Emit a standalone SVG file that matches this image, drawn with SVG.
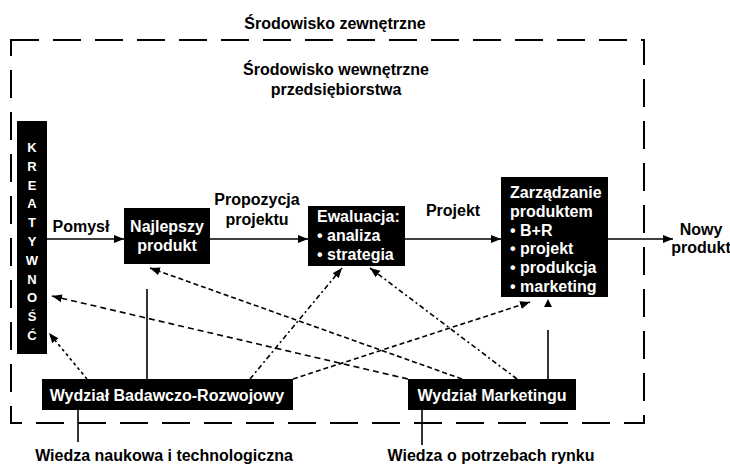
<svg xmlns="http://www.w3.org/2000/svg" width="730" height="466" viewBox="0 0 730 466">
<style>
text{font-family:"Liberation Sans",Arial,sans-serif;font-weight:bold;font-size:16px;fill:#000}
.w{fill:#fff}
.c{text-anchor:middle}
.k{font-size:13px}
.box{fill:#000}
.ln{stroke:#000;stroke-width:1.6;fill:none}
.d1{stroke-dasharray:6,4}
.d2{stroke-dasharray:5,3}
.d3{stroke-dasharray:5,3,2,3}
.d4{stroke-dasharray:3,3}
.env{fill:none;stroke:#000;stroke-width:2;stroke-dasharray:28,14}
</style>
<defs>
<marker id="ah" markerUnits="userSpaceOnUse" markerWidth="11" markerHeight="9" refX="10" refY="4" orient="auto">
<path d="M0,0 L10,4 L0,8 z" fill="#000"/>
</marker>
</defs>
<rect width="730" height="466" fill="#fff"/>
<g id="environment">
<rect class="env" x="11" y="40" width="633" height="383"/>
<text class="c" x="335" y="29">Środowisko zewnętrzne</text>
<text class="c" x="336" y="75">Środowisko wewnętrzne</text>
<text class="c" x="336" y="95">przedsiębiorstwa</text>
</g>
<g id="connectors">
<line class="ln" x1="47" y1="239" x2="124" y2="239" marker-end="url(#ah)"/>
<line class="ln" x1="210" y1="239" x2="308" y2="239" marker-end="url(#ah)"/>
<line class="ln" x1="405" y1="239" x2="501" y2="239" marker-end="url(#ah)"/>
<line class="ln" x1="608" y1="239" x2="673" y2="239" marker-end="url(#ah)"/>
<line class="ln" x1="147" y1="379" x2="147" y2="289"/>
<line class="ln" x1="548" y1="379" x2="548" y2="330"/>
<path d="M548,299 L552,307 L544,307 z" fill="#000"/>
<line class="ln" x1="78" y1="410" x2="78" y2="442"/>
<line class="ln" x1="422" y1="410" x2="422" y2="445"/>
<line class="ln d1" x1="408" y1="379" x2="52" y2="296" marker-end="url(#ah)"/>
<line class="ln d2" x1="462" y1="379" x2="150" y2="268" marker-end="url(#ah)"/>
<line class="ln d2" x1="293" y1="379" x2="530" y2="302" marker-end="url(#ah)"/>
<line class="ln d3" x1="517" y1="379" x2="370" y2="268" marker-end="url(#ah)"/>
<line class="ln d3" x1="250" y1="379" x2="342" y2="268" marker-end="url(#ah)"/>
<line class="ln d4" x1="87" y1="379" x2="49" y2="333" marker-end="url(#ah)"/>
</g>
<g id="labels">
<text class="c" x="81" y="232">Pomysł</text>
<text class="c" x="257" y="205">Propozycja</text>
<text class="c" x="257" y="225">projektu</text>
<text class="c" x="453" y="216">Projekt</text>
<text class="c" x="701" y="235">Nowy</text>
<text class="c" x="701" y="253">produkt</text>
</g>
<g id="kreatywnosc">
<rect class="box" x="17" y="121" width="30" height="233"/>
<text class="w c k" x="32" y="152">K</text>
<text class="w c k" x="32" y="171">R</text>
<text class="w c k" x="32" y="190">E</text>
<text class="w c k" x="32" y="208">A</text>
<text class="w c k" x="32" y="227">T</text>
<text class="w c k" x="32" y="246">Y</text>
<text class="w c k" x="32" y="265">W</text>
<text class="w c k" x="32" y="284">N</text>
<text class="w c k" x="32" y="302">O</text>
<text class="w c k" x="32" y="321">Ś</text>
<text class="w c k" x="32" y="340">Ć</text>
</g>
<g id="najlepszy">
<rect class="box" x="124" y="208" width="86" height="56"/>
<text class="w c" x="167" y="232">Najlepszy</text>
<text class="w c" x="167" y="251">produkt</text>
</g>
<g id="ewaluacja">
<rect class="box" x="308" y="206" width="97" height="60"/>
<text class="w" x="317" y="222">Ewaluacja:</text>
<text class="w" x="317" y="241">• analiza</text>
<text class="w" x="317" y="260">• strategia</text>
</g>
<g id="zarzadzanie">
<rect class="box" x="501" y="177" width="107" height="120"/>
<text class="w" x="510" y="198">Zarządzanie</text>
<text class="w" x="510" y="217">produktem</text>
<text class="w" x="510" y="236">• B+R</text>
<text class="w" x="510" y="254">• projekt</text>
<text class="w" x="510" y="273">• produkcja</text>
<text class="w" x="510" y="292">• marketing</text>
</g>
<g id="badawczy">
<rect class="box" x="42" y="379" width="251" height="31"/>
<text class="w c" x="167" y="401">Wydział Badawczo-Rozwojowy</text>
</g>
<g id="marketing">
<rect class="box" x="408" y="379" width="168" height="31"/>
<text class="w c" x="492" y="401">Wydział Marketingu</text>
</g>
<g id="wiedza">
<text class="c" x="164" y="461">Wiedza naukowa i technologiczna</text>
<text class="c" x="491" y="461">Wiedza o potrzebach rynku</text>
</g>
</svg>
